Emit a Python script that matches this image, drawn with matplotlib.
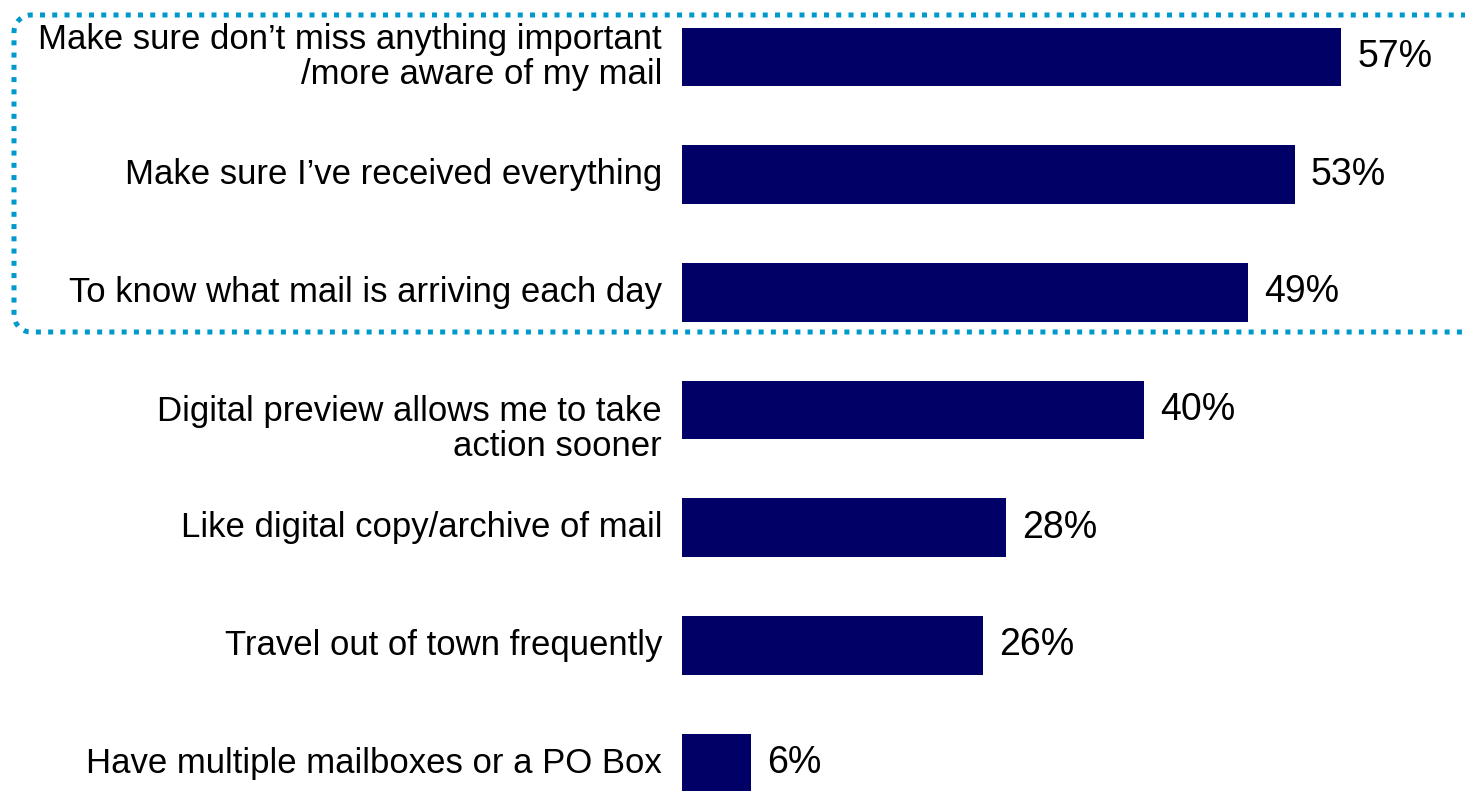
import numpy as np
import matplotlib.pyplot as plt
from matplotlib.path import Path
from matplotlib.patches import PathPatch

plt.rcParams['font.family'] = ['Liberation Sans', 'DejaVu Sans']

reasons = [
    "Make sure don\u2019t miss anything important\n/more aware of my mail",
    "Make sure I\u2019ve received everything",
    "To know what mail is arriving each day",
    "Digital preview allows me to take\naction sooner",
    "Like digital copy/archive of mail",
    "Travel out of town frequently",
    "Have multiple mailboxes or a PO Box",
]
shares = [57, 53, 49, 40, 28, 26, 6]

W, H = 1465, 791
fig = plt.figure(figsize=(W / 100, H / 100), dpi=100)

# axes placed in pixel terms: x starts at 682px, 11.56px per percent
step = 117.67
top_px = 57 - step / 2
ax_h = step * len(reasons)
ax = fig.add_axes([682 / W, 1 - (top_px + ax_h) / H, 68 * 11.56 / W, ax_h / H])

y = np.arange(len(reasons))
ax.barh(y, shares, height=0.5, color='#000066')
ax.set_ylim(len(reasons) - 0.5, -0.5)
ax.set_xlim(0, 68)
ax.axis('off')

for i, (yi, lab, v) in enumerate(zip(y, reasons, shares)):
    # the "digital preview" label hangs below its bar
    dy = 0.16 if i == 3 else 0
    ax.text(-1.73, yi + dy, lab, ha='right', va='center', fontsize=25,
            linespacing=1.08, color='black')
    ax.text(v + 1.4, yi, f"{v}%", ha='left', va='center', fontsize=27,
            color='black')

# dotted bracket around the top three reasons, rounded on the left, open on the right
x0, x1, yt, yb, r = 14, W + 5, 15, 332, 17
pts = [(x1, yt), (x0 + r, yt)]
a = np.linspace(np.pi / 2, np.pi, 12)
pts += [(x0 + r + r * np.cos(t), yt + r - r * np.sin(t)) for t in a]
pts += [(x0, yb - r)]
a = np.linspace(np.pi, 1.5 * np.pi, 12)
pts += [(x0 + r + r * np.cos(t), yb - r - r * np.sin(t)) for t in a]
pts += [(x1, yb)]
pts = [(px / W, 1 - py / H) for px, py in pts]
bracket = PathPatch(Path(pts), transform=fig.transFigure, fill=False,
                    edgecolor='#0099CC', linewidth=3.6, linestyle=(0, (1, 1.45)),
                    capstyle='butt')
fig.patches.append(bracket)

fig.savefig('out.png', dpi=100)
